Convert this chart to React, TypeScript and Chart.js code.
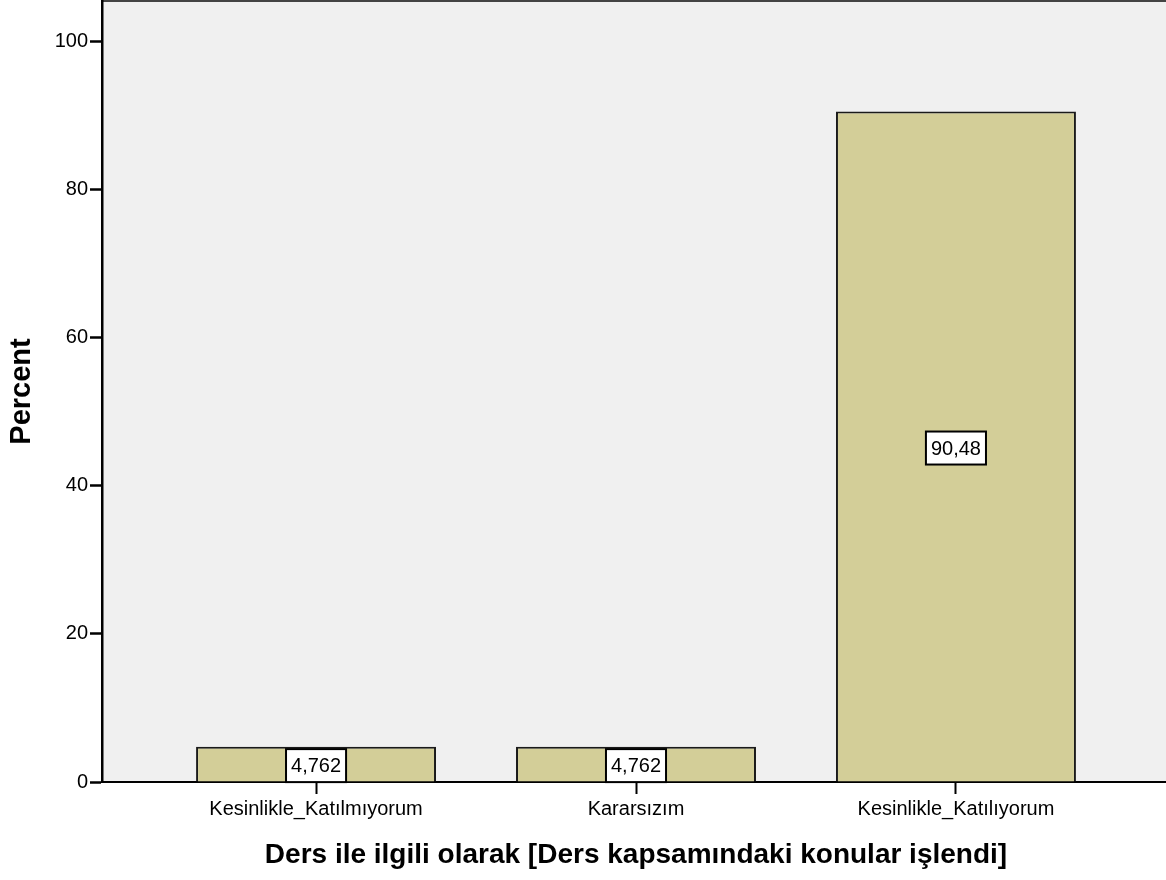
import React, { useEffect, useRef } from 'react';
import { Chart, registerables } from 'chart.js';

Chart.register(...registerables);

const categories = ['Kesinlikle_Katılmıyorum', 'Kararsızım', 'Kesinlikle_Katılıyorum'];
const percents = [4.762, 4.762, 90.48];
const yTickValues = [0, 20, 40, 60, 80, 100];
const yAxisTitle = 'Percent';
const xAxisTitle = 'Ders ile ilgili olarak [Ders kapsamındaki konular işlendi]';

const FONT = "'Liberation Sans', Arial, sans-serif";
const formatPct = (v: number) => v.toPrecision(4).replace('.', ',');

const plotBackground = {
  id: 'plotBackground',
  beforeDraw(chart: any) {
    const { ctx, chartArea } = chart;
    ctx.save();
    ctx.fillStyle = '#f0f0f0';
    ctx.fillRect(chartArea.left, chartArea.top, chartArea.right - chartArea.left, chartArea.bottom - chartArea.top);
    ctx.strokeStyle = '#444';
    ctx.lineWidth = 2;
    ctx.beginPath();
    ctx.moveTo(chartArea.left, chartArea.top);
    ctx.lineTo(chartArea.right, chartArea.top);
    ctx.stroke();
    ctx.restore();
  },
};

const valueLabels = {
  id: 'valueLabels',
  afterDatasetsDraw(chart: any) {
    const { ctx } = chart;
    const meta = chart.getDatasetMeta(0);
    ctx.save();
    ctx.font = `20px ${FONT}`;
    ctx.textAlign = 'center';
    ctx.textBaseline = 'middle';
    meta.data.forEach((bar: any, i: number) => {
      const { x, y, base } = bar.getProps(['x', 'y', 'base'], true);
      const cy = (y + base) / 2 + 1.5;
      const text = formatPct(percents[i]);
      const w = ctx.measureText(text).width + 10;
      const h = 33;
      ctx.fillStyle = '#ffffff';
      ctx.fillRect(x - w / 2, cy - h / 2, w, h);
      ctx.strokeStyle = '#000';
      ctx.lineWidth = 2;
      ctx.strokeRect(x - w / 2, cy - h / 2, w, h);
      ctx.fillStyle = '#000';
      ctx.fillText(text, x, cy + 1);
    });
    ctx.restore();
  },
};

export default function App() {
  const ref = useRef<HTMLCanvasElement | null>(null);

  useEffect(() => {
    if (!ref.current) return;
    const chart = new Chart(ref.current, {
      type: 'bar',
      data: {
        datasets: [
          {
            label: yAxisTitle,
            data: percents.map((v, i) => ({ x: i, y: v })),
            backgroundColor: '#d3ce98',
            borderColor: '#1a1a1a',
            borderWidth: 2,
            categoryPercentage: 1,
            barPercentage: 0.75,
          },
        ],
      },
      options: {
        animation: false,
        responsive: false,
        maintainAspectRatio: false,
        layout: { padding: { top: 1, right: 10, bottom: 0, left: 0 } },
        plugins: {
          legend: { display: false },
          tooltip: { enabled: false },
        },
        scales: {
          x: {
            type: 'linear',
            min: -0.669,
            max: 2.669,
            offset: false,
            afterFit(scale: any) {
              scale.height = 98;
              scale.paddingLeft = 0;
              scale.paddingRight = 0;
            },
            afterBuildTicks(scale: any) {
              scale.ticks = categories.map((_, i) => ({ value: i }));
            },
            ticks: {
              autoSkip: false,
              maxRotation: 0,
              padding: 3,
              color: '#000',
              font: { family: FONT, size: 20 },
              callback: (v: any) => categories[Number(v)] ?? '',
            },
            grid: {
              offset: false,
              drawOnChartArea: false,
              drawTicks: true,
              tickLength: 12,
              tickWidth: 2,
              tickColor: '#000',
            },
            border: { display: true, color: '#000', width: 2 },
            title: {
              display: true,
              text: xAxisTitle,
              color: '#000',
              font: { family: FONT, size: 28, weight: 'bold' },
              padding: { top: 4, bottom: 8 },
            },
          },
          y: {
            type: 'linear',
            min: 0,
            max: 105.4,
            afterFit(scale: any) {
              scale.width = 102;
              scale.paddingTop = 0;
              scale.paddingBottom = 0;
            },
            afterBuildTicks(scale: any) {
              scale.ticks = yTickValues.map((v) => ({ value: v }));
            },
            ticks: {
              padding: 2,
              color: '#000',
              font: { family: FONT, size: 20 },
            },
            grid: {
              drawOnChartArea: false,
              drawTicks: true,
              tickLength: 12,
              tickWidth: 2.5,
              tickColor: '#000',
            },
            border: { display: true, color: '#000', width: 2.5 },
            title: {
              display: true,
              text: yAxisTitle,
              color: '#000',
              font: { family: FONT, size: 29, weight: 'bold' },
              padding: { top: 5, bottom: 4 },
            },
          },
        },
      },
      plugins: [plotBackground, valueLabels],
    });
    return () => chart.destroy();
  }, []);

  return (
    <div style={{ position: 'fixed', left: 0, top: 0, width: 1166, height: 880, overflow: 'hidden', background: '#fff' }}>
      <canvas ref={ref} width={1180} height={880} style={{ display: 'block', width: 1180, height: 880 }} />
    </div>
  );
}
